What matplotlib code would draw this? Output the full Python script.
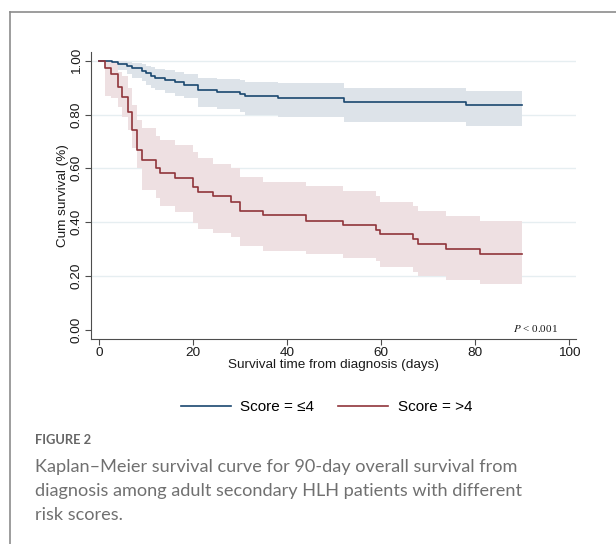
import matplotlib
matplotlib.use("Agg")
import matplotlib.pyplot as plt
from matplotlib.lines import Line2D

plt.rcParams['font.family'] = ['Liberation Sans', 'DejaVu Sans']
plt.rcParams['mathtext.fontset'] = 'stix'

# Kaplan-Meier estimates (days, survival)
end_time = 90

t_low = [0, 2.7, 3.9, 5.9, 7.0, 9.0, 10.0, 11.0, 11.9, 14.0, 16.0, 18.0,
         21.0, 25.0, 30.0, 31.0, 38.0, 52.0, 78.0]
s_low = [1.0, 0.995, 0.99, 0.98, 0.972, 0.964, 0.955, 0.945, 0.936, 0.928,
         0.92, 0.912, 0.89, 0.883, 0.876, 0.869, 0.86, 0.848, 0.834]
hi_low = [1.0, 1.0, 0.999, 0.997, 0.993, 0.988, 0.982, 0.977, 0.97, 0.965,
          0.958, 0.953, 0.938, 0.933, 0.927, 0.922, 0.916, 0.90, 0.889]
lo_low = [1.0, 0.975, 0.965, 0.95, 0.938, 0.925, 0.91, 0.90, 0.89, 0.879,
          0.87, 0.86, 0.83, 0.82, 0.81, 0.80, 0.79, 0.773, 0.757]

t_high = [0, 1.2, 2.5, 3.9, 4.9, 6.0, 7.0, 8.1, 9.0, 12.0, 12.9, 16.0, 20.0,
          20.9, 24.1, 28.0, 29.9, 34.9, 43.9, 51.9, 58.9, 59.8, 66.8, 67.7,
          73.8, 80.9]
s_high = [1.0, 0.972, 0.951, 0.901, 0.866, 0.81, 0.742, 0.670, 0.633, 0.600,
          0.581, 0.565, 0.531, 0.513, 0.496, 0.475, 0.44, 0.426, 0.406, 0.391,
          0.371, 0.357, 0.337, 0.318, 0.300, 0.283]
hi_high = [1.0, 1.0, 0.995, 0.96, 0.945, 0.90, 0.835, 0.78, 0.75, 0.72,
           0.705, 0.686, 0.66, 0.637, 0.618, 0.60, 0.568, 0.55, 0.534, 0.516,
           0.496, 0.475, 0.459, 0.442, 0.423, 0.405]
lo_high = [1.0, 0.87, 0.86, 0.83, 0.79, 0.742, 0.674, 0.60, 0.52, 0.49, 0.46,
           0.438, 0.395, 0.376, 0.36, 0.345, 0.31, 0.293, 0.283, 0.265, 0.255,
           0.233, 0.215, 0.199, 0.186, 0.171]

labels = ['Score = \u22644', 'Score = >4']
line_colors = ['#1a476f', '#90353b']
band_colors = ['#dde3e9', '#eee0e2']

x_ticks = [0, 20, 40, 60, 80, 100]
y_ticks = [0.0, 0.2, 0.4, 0.6, 0.8, 1.0]

caption_head = 'FIGURE 2'
caption_lines = [
    'Kaplan\u2013Meier survival curve for 90-day overall survival from',
    'diagnosis among adult secondary HLH patients with different',
    'risk scores.',
]

fig = plt.figure(figsize=(6.16, 5.44), dpi=100)
ax = fig.add_axes([0.1477, 0.3768, 0.7873, 0.5276])

groups = [(t_low, s_low, lo_low, hi_low), (t_high, s_high, lo_high, hi_high)]
for (t, s, lo, hi), bc in zip(groups, band_colors):
    tt = t + [end_time]
    ax.fill_between(tt, lo + [lo[-1]], hi + [hi[-1]], step='post',
                    color=bc, lw=0, zorder=1)
for (t, s, lo, hi), lc in zip(groups, line_colors):
    tt = t + [end_time]
    ax.step(tt, s + [s[-1]], where='post', color=lc, lw=1.2, zorder=3)

ax.set_xlim(-1.77, 101.4)
ax.set_ylim(-0.035, 1.033)
ax.set_xticks(x_ticks)
ax.set_yticks(y_ticks)
ax.set_yticklabels([f'{v:.2f}' for v in y_ticks], rotation=90, va='center')
for v in y_ticks[1:]:
    ax.axhline(v, color='#e6eef1', lw=1.0, zorder=0)

for side in ['top', 'right']:
    ax.spines[side].set_visible(False)
for side in ['left', 'bottom']:
    ax.spines[side].set_color('#4d4d4d')
    ax.spines[side].set_linewidth(0.8)
ax.tick_params(axis='both', direction='out', length=4, width=0.8,
               color='#4d4d4d', labelsize=9.7, labelcolor='#1a1a1a')
ax.tick_params(axis='y', pad=2)
ax.tick_params(axis='x', pad=2)

ax.set_xlabel('Survival time from diagnosis (days)', fontsize=9.7,
              labelpad=0, color='#1a1a1a')
ax.set_ylabel('Cum survival (%)', fontsize=9.7, labelpad=1, color='#1a1a1a')

ax.text(97.6, 0.006, r'$P$ < 0.001', ha='right', va='center', fontsize=8,
        family='Liberation Serif', color='#1a1a1a')

handles = [Line2D([], [], color=c, lw=1.2) for c in line_colors]
fig.legend(handles, labels, loc='center', bbox_to_anchor=(0.53, 0.2518),
           ncol=2, frameon=False, fontsize=11, handlelength=3.27,
           handletextpad=0.6, columnspacing=1.6)

# caption below the chart
fig.text(35 / 616, 1 - 440 / 544, caption_head, fontsize=9.3,
         family='Lato', fontweight='bold', color='#666666',
         va='center', ha='left')
for i, line in enumerate(caption_lines):
    fig.text(35 / 616, 1 - (467 + 24 * i) / 544, line, fontsize=13.1,
             family='Lato', color='#707070', va='center', ha='left')

# panel border (left and top edges)
fig.add_artist(Line2D([9.5 / 616, 9.5 / 616], [0, 1 - 12 / 544],
                      transform=fig.transFigure, color='#8c8c8c', lw=1.2))
fig.add_artist(Line2D([9.5 / 616, 1], [1 - 12 / 544, 1 - 12 / 544],
                      transform=fig.transFigure, color='#8c8c8c', lw=1.2))

plt.savefig('out.png', dpi=100)
